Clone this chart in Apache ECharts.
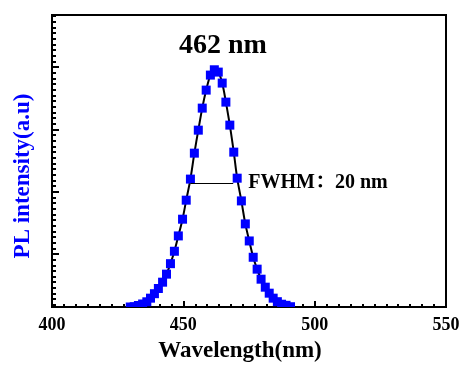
<!DOCTYPE html>
<html>
<head>
<meta charset="utf-8">
<script src="https://cdn.jsdelivr.net/npm/echarts@6/dist/echarts.min.js"></script>
<style>html,body{margin:0;padding:0;background:#fff;}#c{width:476px;height:370px;}</style>
</head>
<body>
<div id="c"></div>
<script>
// Wavelength (nm) of each measured point
var wavelength = [429.8, 431.3, 432.9, 434.5, 436.1, 437.5, 439.0, 440.5, 442.1, 443.6,
  445.1, 446.6, 448.1, 449.7, 451.1, 452.7, 454.2, 455.7, 457.2, 458.7,
  460.3, 461.8, 463.3, 464.8, 466.2, 467.7, 469.2, 470.5, 472.1, 473.6,
  475.1, 476.6, 478.1, 479.6, 481.2, 482.7, 484.2, 485.8, 487.4, 489.1, 490.8];
// PL intensity (a.u.)
var intensity = [0.0, 0.05, 0.27, 0.53, 0.92, 1.56, 2.35, 3.27, 4.38, 5.80,
  7.65, 9.84, 12.55, 15.50, 18.86, 22.58, 27.16, 31.22, 35.11, 38.29,
  40.94, 41.88, 41.47, 39.53, 36.17, 32.11, 27.34, 22.74, 18.73, 14.67,
  11.66, 8.78, 6.68, 4.91, 3.50, 2.44, 1.56, 0.94, 0.49, 0.30, 0.05];
var xTicks = [400, 450, 500, 550];
var yMajorTicks = [9.37, 20.37, 31.37, 42.37];
var yMin = 0, yMax = 51.55;
var yMinorTicks = [];
for (var k = -9; k <= 42; k++) { var v = +(9.37 + k).toFixed(2); if (v > yMin && v < yMax) yMinorTicks.push(v); }
var fwhmArrow = [[452.7, 21.9], [469.0, 21.9]];
var peakLabel = '462 nm';
var fwhmLabel = 'FWHM：20 nm';

var serif = "'Times New Roman', 'Liberation Serif', 'Noto Serif CJK SC', 'Noto Sans CJK SC', serif";
var pts = wavelength.map(function (w, i) { return [w, intensity[i]]; });

var chart = echarts.init(document.getElementById('c'), null, {renderer: 'canvas'});
chart.setOption({
  animation: false,
  backgroundColor: '#fff',
  title: {
    text: peakLabel, left: 174, top: 27,
    textStyle: {fontFamily: serif, fontWeight: 'bold', fontSize: 28, color: '#000'}
  },
  grid: {left: 52, right: 30, top: 15, bottom: 63, show: true, borderColor: '#000', borderWidth: 2},
  xAxis: {
    type: 'value', min: xTicks[0], max: xTicks[xTicks.length - 1], interval: 50,
    name: 'Wavelength(nm)', nameLocation: 'middle', nameGap: 33,
    nameTextStyle: {fontFamily: serif, fontWeight: 'bold', fontSize: 23, color: '#000', padding: [0, 18, 0, 0]},
    axisLine: {lineStyle: {color: '#000', width: 2}},
    axisTick: {inside: true, length: 6, lineStyle: {color: '#000', width: 2}},
    minorTick: {show: true, splitNumber: 11, length: 3, lineStyle: {color: '#000', width: 2}},
    axisLabel: {fontFamily: serif, fontWeight: 'bold', fontSize: 18, color: '#000', margin: 9},
    splitLine: {show: false}, minorSplitLine: {show: false}
  },
  yAxis: [{
    type: 'value', min: yMin, max: yMax, position: 'left',
    name: 'PL intensity(a.u)', nameLocation: 'middle', nameRotate: 90, nameGap: 17,
    nameTextStyle: {fontFamily: serif, fontWeight: 'bold', fontSize: 23, color: '#0000ff', padding: [0, 30, 0, 0]},
    axisLine: {lineStyle: {color: '#000', width: 2}},
    axisTick: {inside: true, length: 4, customValues: yMinorTicks, lineStyle: {color: '#000', width: 2}},
    axisLabel: {show: false},
    splitLine: {show: false}
  }, {
    type: 'value', min: yMin, max: yMax, position: 'left',
    axisLine: {show: false},
    axisTick: {show: true, inside: true, length: 7, customValues: yMajorTicks, lineStyle: {color: '#000', width: 2}},
    axisLabel: {show: false},
    splitLine: {show: false}
  }],
  series: [{
    type: 'line', data: pts, smooth: 0.3, showSymbol: false, symbol: 'none',
    lineStyle: {color: '#000', width: 2}, z: 2,
    markLine: {
      silent: true, symbol: ['none', 'arrow'], symbolSize: [0, 8],
      lineStyle: {color: '#000', width: 1, type: 'solid'},
      label: {show: true, position: 'end', distance: 15, formatter: fwhmLabel,
        fontFamily: serif, fontWeight: 'bold', fontSize: 20, color: '#000'},
      data: [[{coord: fwhmArrow[0]}, {coord: fwhmArrow[1]}]]
    }
  }, {
    type: 'custom', data: pts, clip: true, z: 3,
    encode: {x: 0, y: 1},
    renderItem: function (params, api) {
      var p = api.coord([api.value(0), api.value(1)]);
      return {type: 'rect', shape: {x: p[0] - 4.5, y: p[1] - 4.5, width: 9, height: 9}, style: {fill: '#0000ff'}};
    }
  }]
});
</script>
</body>
</html>
